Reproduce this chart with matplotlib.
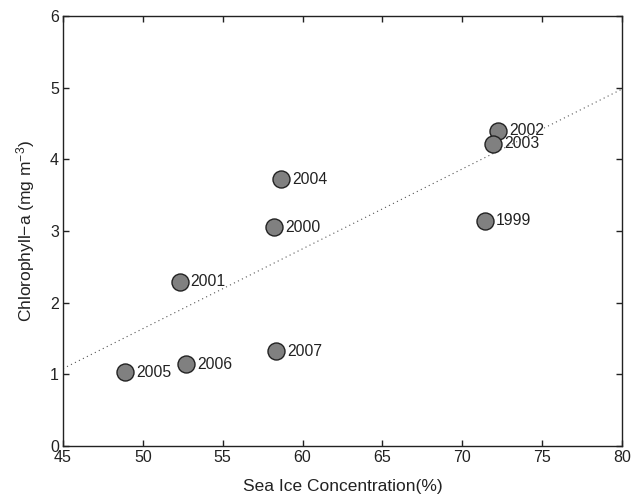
import matplotlib
matplotlib.use('Agg')
import matplotlib.pyplot as plt

plt.rcParams['font.family'] = ['Liberation Sans', 'DejaVu Sans']
plt.rcParams['mathtext.fontset'] = 'custom'
plt.rcParams['mathtext.rm'] = 'Liberation Sans'
plt.rcParams['mathtext.it'] = 'Liberation Sans:italic'

# sea ice concentration vs chlorophyll-a, one point per year
years = ['2005', '2006', '2001', '2007', '2004', '2000', '2002', '2003', '1999']
ice = [48.9, 52.7, 52.3, 58.35, 58.65, 58.2, 72.25, 71.9, 71.4]
chl = [1.03, 1.14, 2.29, 1.32, 3.72, 3.05, 4.40, 4.22, 3.14]

# regression line end points
trend_x = [45, 80]
trend_y = [1.08, 4.98]

fig = plt.figure(figsize=(6.32, 5.01), dpi=100)
ax = fig.add_axes([0.0997, 0.1098, 0.8845, 0.8583])

ax.plot(trend_x, trend_y, linestyle=(0, (1, 3)), color='#555555', linewidth=0.8, zorder=1)
ax.scatter(ice, chl, s=150, facecolor='#808080', edgecolor='#222222', linewidth=1.0, zorder=3)

for x, y, yr in zip(ice, chl, years):
    ax.annotate(yr, (x, y), xytext=(8, 0), textcoords='offset points',
                va='center', ha='left', fontsize=11.3, color='#222222')

ax.set_xlim(45, 80)
ax.set_ylim(0, 6)
ax.set_xticks(range(45, 81, 5))
ax.set_yticks(range(0, 7))
ax.tick_params(direction='in', top=True, right=True, length=4, width=1,
               labelsize=11.5, colors='#222222', pad=3)
for s in ax.spines.values():
    s.set_linewidth(1.0)
    s.set_color('#222222')

ax.set_xlabel('Sea Ice Concentration(%)', fontsize=12.5, color='#222222', labelpad=10)
ax.set_ylabel('Chlorophyll\u2212a (mg m$^{-3}$)', fontsize=12.5, color='#222222', labelpad=9)

fig.savefig('out.png', dpi=100)
